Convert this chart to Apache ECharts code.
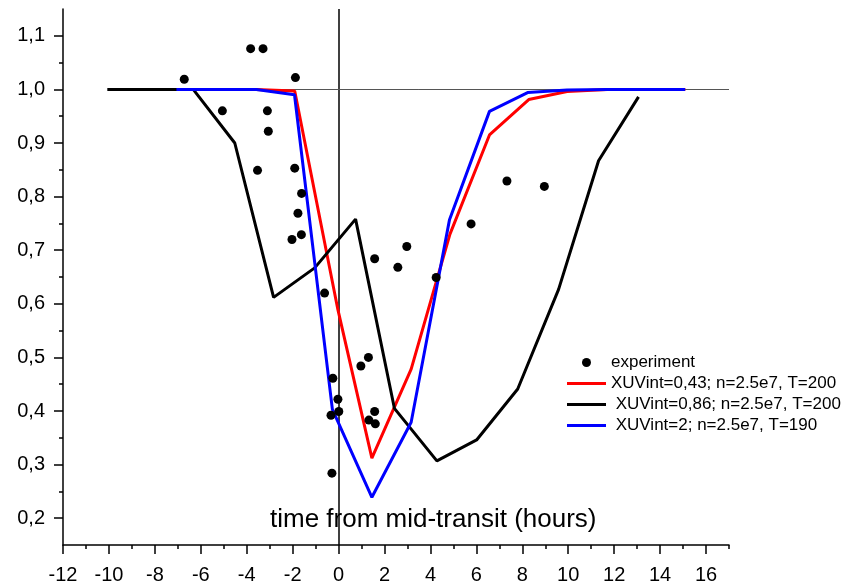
<!DOCTYPE html>
<html>
<head>
<meta charset="utf-8">
<script src="https://cdn.jsdelivr.net/npm/echarts@6/dist/echarts.min.js"></script>
<style>html,body{margin:0;padding:0;background:#fff}#c{width:857px;height:585px}</style>
</head>
<body>
<div id="c"></div>
<script>
// ---- data ----
const expX = [-6.72, -5.06, -3.83, -3.29, -3.53, -3.10, -3.06, -1.88, -1.91, -1.61, -1.77, -1.62, -2.03, -0.61, 1.57, 2.58, 2.97, 4.25, 5.77, 7.33, 8.96, 1.30, 0.97, -0.25, -0.03, 0.01, -0.33, 1.57, 1.32, 1.60, -0.29];
const expY = [1.019, 0.960, 1.076, 1.076, 0.849, 0.960, 0.922, 1.022, 0.853, 0.806, 0.769, 0.729, 0.720, 0.620, 0.684, 0.668, 0.707, 0.649, 0.749, 0.829, 0.819, 0.500, 0.484, 0.461, 0.422, 0.399, 0.392, 0.399, 0.383, 0.376, 0.284];

const redX = [-7.0, -3.6, -1.91, -0.03, 1.45, 3.16, 4.85, 6.57, 8.28, 9.95, 11.7, 13.4, 15.1];
const redY = [1.0, 1.0, 0.997, 0.589, 0.312, 0.478, 0.73, 0.915, 0.981, 0.996, 1.0, 1.0, 1.0];

const blackX = [-10.07, -6.33, -4.52, -2.83, -1.04, 0.74, 2.43, 4.28, 6.01, 7.8, 9.58, 11.32, 13.06];
const blackY = [1.0, 1.0, 0.90, 0.612, 0.667, 0.758, 0.405, 0.307, 0.346, 0.441, 0.627, 0.867, 0.986];

const blueX = [-7.06, -3.58, -1.92, -0.27, 1.45, 3.16, 4.83, 6.57, 8.23, 9.95, 11.7, 13.4, 15.09];
const blueY = [1.0, 1.0, 0.99, 0.403, 0.239, 0.379, 0.757, 0.959, 0.994, 0.999, 1.0, 1.0, 1.0];

const seriesNames = ['experiment', 'XUVint=0,43; n=2.5e7, T=200', ' XUVint=0,86; n=2.5e7, T=200', ' XUVint=2; n=2.5e7, T=190'];

const xMajorTicks = [-12, -10, -8, -6, -4, -2, 0, 2, 4, 6, 8, 10, 12, 14, 16];
const xTickLabels = ['-12', '-10', '-8', '-6', '-4', '-2', '0', '2', '4', '6', '8', '10', '12', '14', '16'];
const xMinorTicks = [-11, -9, -7, -5, -3, -1, 1, 3, 5, 7, 9, 11, 13, 15, 17];
const yMajorTicks = [0.2, 0.3, 0.4, 0.5, 0.6, 0.7, 0.8, 0.9, 1.0, 1.1];
const yTickLabels = ['0,2', '0,3', '0,4', '0,5', '0,6', '0,7', '0,8', '0,9', '1,0', '1,1'];
const yMinorTicks = [0.25, 0.35, 0.45, 0.55, 0.65, 0.75, 0.85, 0.95, 1.05];
const xAxisTitle = 'time from mid-transit (hours)';

// ---- chart ----
const zip = (a, b) => a.map((v, i) => [v, b[i]]);
const lookup = (vals, labels) => v => {
  let best = 0;
  for (let i = 0; i < vals.length; i++) if (Math.abs(vals[i] - v) < Math.abs(vals[best] - v)) best = i;
  return labels[best];
};
const FONT = 'Liberation Sans, Arial, sans-serif';
const LINE_ICON = 'path://M0,0H39V3H0Z';
const chart = echarts.init(document.getElementById('c'), null, {renderer: 'canvas'});
const axisCommon = {type: 'value', splitLine: {show: false}};
const lineSeries = (name, xs, ys, color, z) => ({
  name, type: 'line', data: zip(xs, ys), showSymbol: false, symbol: 'none',
  lineStyle: {color, width: 3}, itemStyle: {color}, z, silent: true
});
chart.setOption({
  animation: false,
  textStyle: {fontFamily: FONT},
  grid: {left: 63, right: 128, top: 9, bottom: 39, containLabel: false},
  title: {
    text: xAxisTitle, left: 270, top: 507, padding: 0,
    textStyle: {fontSize: 26, fontWeight: 'normal', color: '#000', fontFamily: FONT}
  },
  legend: {
    orient: 'vertical', left: 567, top: 354, itemWidth: 39, itemHeight: 9, itemGap: 4,
    selectedMode: false, padding: 0, symbolKeepAspect: true,
    textStyle: {fontSize: 17, color: '#000', fontFamily: FONT},
    data: [
      {name: seriesNames[0], icon: 'circle'},
      {name: seriesNames[1], icon: LINE_ICON},
      {name: seriesNames[2], icon: LINE_ICON},
      {name: seriesNames[3], icon: LINE_ICON}
    ]
  },
  xAxis: [
    Object.assign({}, axisCommon, {
      min: -12, max: 17, interval: 1, position: 'bottom',
      axisLine: {onZero: false, lineStyle: {color: '#000', width: 1.5}},
      axisTick: {customValues: xMajorTicks, length: 9, lineStyle: {color: '#000', width: 1.5}},
      axisLabel: {customValues: xMajorTicks, formatter: lookup(xMajorTicks, xTickLabels), fontSize: 20, color: '#000', margin: 20, fontFamily: FONT}
    }),
    Object.assign({}, axisCommon, {
      min: -12, max: 17, interval: 1, position: 'bottom',
      axisLine: {show: false, onZero: false},
      axisTick: {customValues: xMinorTicks, length: 4, lineStyle: {color: '#000', width: 1.5}},
      axisLabel: {show: false}
    })
  ],
  yAxis: [
    Object.assign({}, axisCommon, {
      min: 0.15, max: 1.15, interval: 0.05, position: 'left',
      axisLine: {show: true, onZero: false, lineStyle: {color: '#000', width: 1.5}},
      axisTick: {show: true, customValues: yMajorTicks, length: 9, lineStyle: {color: '#000', width: 1.5}},
      axisLabel: {customValues: yMajorTicks, formatter: lookup(yMajorTicks, yTickLabels), fontSize: 20, color: '#000', margin: 18, fontFamily: FONT}
    }),
    Object.assign({}, axisCommon, {
      min: 0.15, max: 1.15, interval: 0.05, position: 'left',
      axisLine: {show: false, onZero: false},
      axisTick: {show: true, customValues: yMinorTicks, length: 4, lineStyle: {color: '#000', width: 1.5}},
      axisLabel: {show: false}
    })
  ],
  series: [
    {
      name: seriesNames[0], type: 'scatter', data: zip(expX, expY), symbol: 'circle', symbolSize: 9,
      itemStyle: {color: '#000', opacity: 1}, z: 5, silent: true,
      markLine: {
        silent: true, symbol: 'none', label: {show: false}, z: 1,
        data: [
          [{coord: [0, 0.15], lineStyle: {color: '#000', width: 1.5, type: 'solid'}}, {coord: [0, 1.15]}],
          [{coord: [-10, 1.0], lineStyle: {color: '#555', width: 1, type: 'solid'}}, {coord: [17, 1.0]}]
        ]
      }
    },
    lineSeries(seriesNames[1], redX, redY, '#ff0000', 2),
    lineSeries(seriesNames[2], blackX, blackY, '#000000', 3),
    lineSeries(seriesNames[3], blueX, blueY, '#0000ff', 4)
  ]
});
</script>
</body>
</html>
